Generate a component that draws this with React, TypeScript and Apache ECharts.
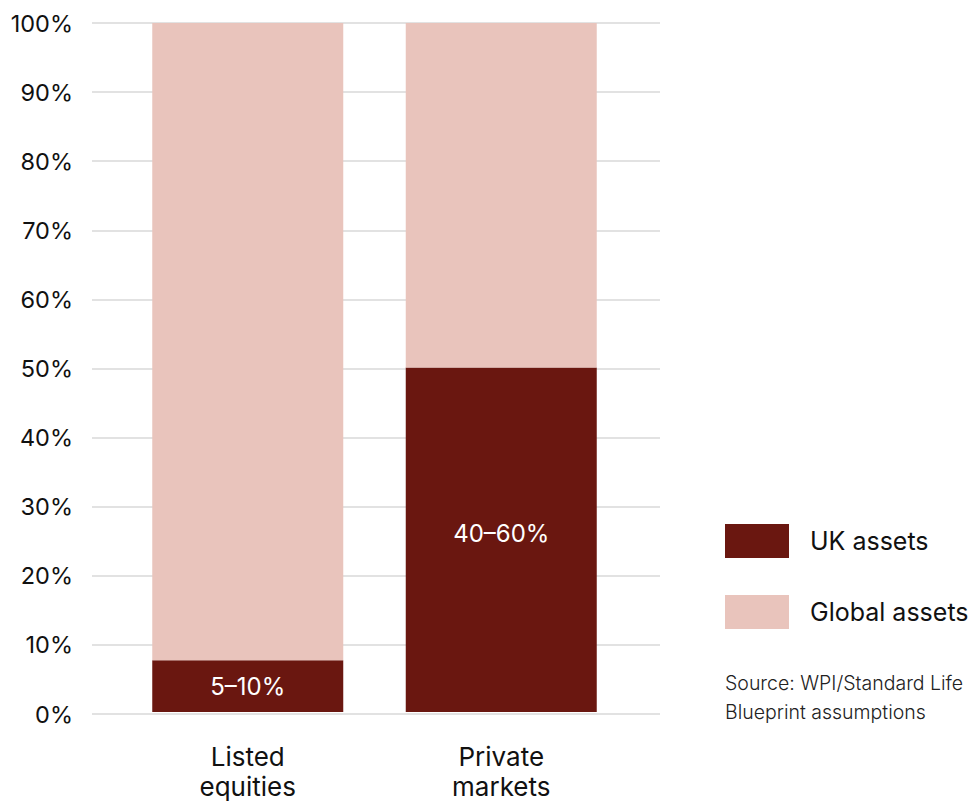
import React, { useEffect, useRef } from "react";
import * as echarts from "echarts";

const categories = ["Listed\nequities", "Private\nmarkets"];
const ukAssets = [7.5, 50];
const globalAssets = [92.5, 50];
const ukLabels = ["5–10%", "40–60%"];
const yTicks = [0, 10, 20, 30, 40, 50, 60, 70, 80, 90, 100];
const sourceLines = ["Source: WPI/Standard Life", "Blueprint assumptions"];

const FONT = "Inter, 'Noto Sans', sans-serif";
const DARK = "#6a1710";
const LIGHT = "#e9c4bc";

export default function App() {
  const ref = useRef<HTMLDivElement>(null);
  useEffect(() => {
    if (!ref.current) return;
    const chart = echarts.init(ref.current, undefined, { renderer: "svg" });
    const top = 23;
    const bottom = 87;
    chart.setOption({
      animation: false,
      textStyle: { fontFamily: FONT },
      grid: [
        { left: 92, right: 311, top, bottom },
        { left: 121, right: 343, top, bottom },
      ],
      xAxis: [
        { type: "category", gridIndex: 0, data: ["a"], show: false },
        {
          type: "category",
          gridIndex: 1,
          data: categories,
          axisLine: { show: false },
          axisTick: { show: false },
          axisLabel: {
            color: "#111",
            fontSize: 26,
            lineHeight: 30,
            margin: 29,
            fontFamily: FONT,
          },
        },
      ],
      yAxis: [
        {
          type: "value",
          gridIndex: 0,
          min: 0,
          max: 100,
          interval: 10,
          axisLine: { show: false },
          axisTick: { show: false },
          splitLine: { lineStyle: { color: "#e2e2e2", width: 2 } },
          axisLabel: {
            formatter: (v: number) => (yTicks.includes(v) ? v + "%" : ""),
            color: "#111",
            fontSize: 23.5,
            margin: 19,
            fontFamily: FONT,
          },
        },
        {
          type: "value",
          gridIndex: 1,
          min: 0,
          max: 100,
          interval: 10,
          show: false,
        },
      ],
      legend: {
        orient: "vertical",
        left: 725,
        top: 524,
        padding: 0,
        itemWidth: 64,
        itemHeight: 34,
        itemGap: 37,
        icon: "rect",
        selectedMode: false,
        textStyle: {
          color: "#111",
          fontSize: 25,
          fontFamily: FONT,
          padding: [0, 0, 0, 16],
        },
        data: ["UK assets", "Global assets"],
      },
      graphic: [
        {
          type: "text",
          left: 725,
          top: 668,
          style: {
            text: sourceLines.join("\n"),
            fontSize: 19.5,
            lineHeight: 29,
            fill: "#222",
            fontFamily: FONT,
            fontWeight: 300,
          },
        },
      ],
      series: [
        {
          name: "UK assets",
          type: "bar",
          stack: "total",
          xAxisIndex: 1,
          yAxisIndex: 1,
          barWidth: 191,
          data: ukAssets,
          itemStyle: { color: DARK },
          label: {
            show: true,
            position: "inside",
            formatter: (p: any) => ukLabels[p.dataIndex],
            color: "#fff",
            fontSize: 24,
            fontFamily: FONT,
          },
          labelLayout: (p: any) => (p.dataIndex === 1 ? { dy: -6 } : {}),
        },
        {
          name: "Global assets",
          type: "bar",
          stack: "total",
          xAxisIndex: 1,
          yAxisIndex: 1,
          barWidth: 191,
          data: globalAssets,
          itemStyle: { color: LIGHT },
        },
      ],
    });
    return () => chart.dispose();
  }, []);
  return <div ref={ref} style={{ width: 971, height: 801, position: "absolute", left: 0, top: 0 }} />;
}
